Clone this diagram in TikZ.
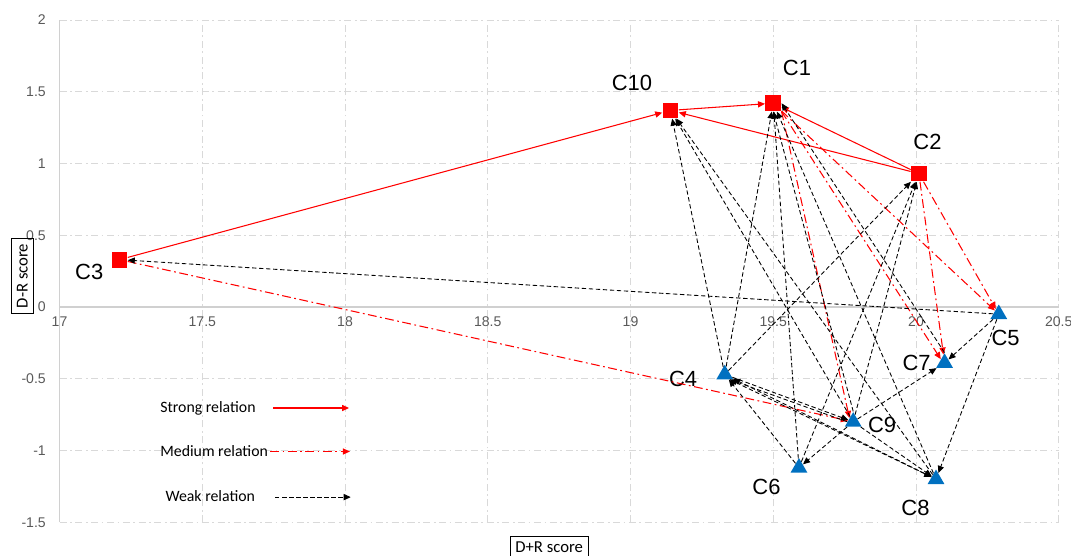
\documentclass[tikz,border=0pt]{standalone}
\usepackage{fontspec}
\setmainfont{Liberation Sans}
\newfontfamily\calfont{Carlito}
\usetikzlibrary{arrows.meta,shapes.geometric}

\definecolor{gridgray}{RGB}{217,217,217}
\definecolor{tickgray}{RGB}{89,89,89}
\definecolor{markblue}{RGB}{0,112,192}

\begin{document}
\begin{tikzpicture}[x=5.71cm,y=2.87cm,
	gridline/.style={gridgray,line width=0.4pt,dash pattern=on 4pt off 2pt on 1pt off 2pt},
	axisline/.style={gridgray!90!gray,line width=0.9pt},
	ticklbl/.style={text=tickgray,font=\fontsize{8}{9}\selectfont,inner sep=0pt},
	cause/.style={rectangle,fill=red,minimum size=9pt,inner sep=0pt},
	effect/.style={regular polygon,regular polygon sides=3,fill=markblue,minimum size=11pt,inner sep=0pt},
	clbl/.style={font=\fontsize{12.5}{14}\selectfont,inner sep=0pt},
	lgd/.style={font=\calfont\fontsize{9}{10}\selectfont,inner sep=0pt,anchor=west},
	axtitle/.style={draw,font=\calfont\fontsize{9.5}{11}\selectfont,inner sep=3pt,line width=0.5pt},
	tip/.style={-{Triangle[length=4pt,width=3.5pt]}},
	strong/.style={tip,red,line width=0.6pt},
	medium/.style={tip,red,line width=0.6pt,dash pattern=on 5pt off 2pt on 1pt off 2pt},
	weak/.style={tip,black,line width=0.5pt,dash pattern=on 2.5pt off 1.5pt}]
\useasboundingbox (16.7916,-1.7352) rectangle (20.5431,2.1394);

% grid and axes
\foreach \x in {17.5,18,...,20.5}
	\draw[gridline] (\x,-1.5) -- (\x,2);
\foreach \y in {-1.5,-1,-0.5,0.5,1,1.5,2}
	\draw[gridline] (17,\y) -- (20.5,\y);
\draw[axisline,line width=0.5pt] (17,-1.5) -- (17,2);
\draw[axisline] (17,0) -- (20.5,0);
\foreach \y in {-1.5,-1,-0.5,0,0.5,1,1.5,2}
	\node[ticklbl,anchor=east] at (16.953,\y) {\y};
\foreach \x in {17,17.5,18,18.5,19,19.5,20,20.5}
	\node[ticklbl,anchor=north] at (\x,-0.065) {\x};

\node[axtitle,rotate=90] (ylbl) at (16.870,0.216) {D-R score};
\node[axtitle,anchor=north] (xlbl) at (18.715,-1.596) {D+R score};

% criteria
\node[cause] (C1) at (19.50,1.42) {};
\node[cause] (C2) at (20.01,0.93) {};
\node[cause] (C3) at (17.21,0.33) {};
\node[cause] (C10) at (19.14,1.37) {};
\node[effect] (C4) at (19.33,-0.47) {};
\node[effect] (C5) at (20.29,-0.05) {};
\node[effect] (C6) at (19.59,-1.12) {};
\node[effect] (C7) at (20.10,-0.39) {};
\node[effect] (C8) at (20.07,-1.20) {};
\node[effect] (C9) at (19.78,-0.80) {};

\node[clbl] (lC1) at (19.583,1.666) {C1};
\node[clbl] (lC2) at (20.040,1.148) {C2};
\node[clbl] (lC3) at (17.104,0.246) {C3};
\node[clbl] (lC4) at (19.184,-0.502) {C4};
\node[clbl] (lC5) at (20.314,-0.218) {C5};
\node[clbl] (lC6) at (19.476,-1.252) {C6};
\node[clbl] (lC7) at (20.002,-0.392) {C7};
\node[clbl] (lC8) at (19.998,-1.403) {C8};
\node[clbl] (lC9) at (19.881,-0.820) {C9};
\node[clbl] (lC10) at (19.005,1.563) {C10};

% relations
\foreach \a/\b in {C3/C10,C10/C1,C2/C1,C2/C10}
	\draw[strong] (\a) -- (\b);
\foreach \a/\b in {C3/C9,C1.south east/C9.north west,C1.south east/C7.north west,C1/C5,C2/C5,C2/C7}
	\draw[medium] (\a) -- (\b);
\foreach \a/\b in {C5/C3,C4/C10,C9/C10,C8/C10,C4/C1,C6/C1,C9.north/C1.south,C8/C1,C7.north/C1.east,
	C4/C2,C6/C2,C9/C2,C4/C9,C9.west/C4.south east,C6/C4,C8/C4,C4.south east/C8,
	C9/C8,C9/C6,C9/C7,C5/C7,C5/C8}
	\draw[weak] (\a) -- (\b);

% legend
\node[lgd] (lgS) at (17.352,-0.704) {Strong relation};
\node[lgd] (lgM) at (17.352,-1.003) {Medium relation};
\node[lgd] (lgW) at (17.370,-1.317) {Weak relation};
\coordinate (sS) at (17.748,-0.704); \coordinate (eS) at (18.014,-0.704);
\coordinate (sM) at (17.738,-1.007); \coordinate (eM) at (18.017,-1.007);
\coordinate (sW) at (17.755,-1.325); \coordinate (eW) at (18.020,-1.325);
\draw[strong] (sS) -- (eS);
\draw[medium] (sM) -- (eM);
\draw[weak] (sW) -- (eW);
\end{tikzpicture}
\end{document}
